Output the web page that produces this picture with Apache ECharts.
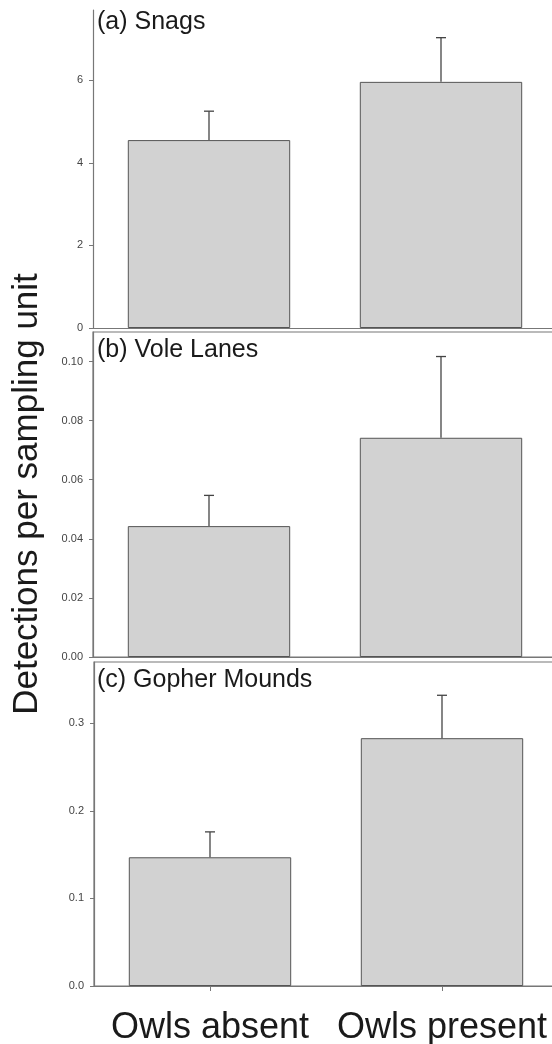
<!DOCTYPE html>
<html>
<head>
<meta charset="utf-8">
<script src="https://cdn.jsdelivr.net/npm/echarts@6/dist/echarts.min.js"></script>
<style>
html,body{margin:0;padding:0;background:#fff;}
#chart{width:552px;height:1044px;}
</style>
</head>
<body>
<div id="chart"></div>
<script>
const categories = ['Owls absent', 'Owls present'];
const panelTitles = ['(a) Snags', '(b) Vole Lanes', '(c) Gopher Mounds'];
const yLabel = 'Detections per sampling unit';

const snagsMean = [4.55, 5.96];
const snagsUpper = [5.25, 7.03];
const voleMean = [0.0443, 0.0742];
const voleUpper = [0.0547, 0.1017];
const gopherMean = [0.147, 0.283];
const gopherUpper = [0.176, 0.332];

const snagsTicks = [0, 2, 4, 6];
const voleTicks = [0, 0.02, 0.04, 0.06, 0.08, 0.10];
const gopherTicks = [0, 0.1, 0.2, 0.3];

const means = [snagsMean, voleMean, gopherMean];
const uppers = [snagsUpper, voleUpper, gopherUpper];
const ticks = [snagsTicks, voleTicks, gopherTicks];
const maxes = [7.7, 0.11, 0.37];
const decimals = [0, 2, 1];

const FONT = 'Liberation Sans, Arial, Helvetica, sans-serif';
const grids = [
  {left: 93, top: 10, width: 464, height: 318, outerBoundsMode: 'none', containLabel: false},
  {left: 93, top: 332, width: 464, height: 325, outerBoundsMode: 'none', containLabel: false, show: true, borderColor: '#777', borderWidth: 1.2, backgroundColor: 'transparent'},
  {left: 94, top: 662, width: 464, height: 324, outerBoundsMode: 'none', containLabel: false, show: true, borderColor: '#777', borderWidth: 1.2, backgroundColor: 'transparent'}
];

const titleTops = [10, 338, 668];

const xAxes = [], yAxes = [], series = [], titles = [];
for (let i = 0; i < 3; i++) {
  const last = i === 2;
  xAxes.push({
    type: 'category', gridIndex: i, data: categories,
    axisLine: {show: true, lineStyle: {color: '#777', width: 1.2}},
    axisTick: {show: last, alignWithLabel: true, length: 5, lineStyle: {color: '#777'}},
    axisLabel: {show: last, interval: 0, hideOverlap: false, fontSize: 36, color: '#1a1a1a', fontFamily: FONT, margin: 24},
    splitLine: {show: false}
  });
  yAxes.push({
    type: 'value', gridIndex: i, min: 0, max: maxes[i],
    axisLine: {show: true, lineStyle: {color: '#777', width: 1.2}},
    axisTick: {show: true, length: 4, customValues: ticks[i], lineStyle: {color: '#777'}},
    axisLabel: {
      customValues: ticks[i], fontSize: 11, color: '#444', fontFamily: FONT, margin: 10,
      formatter: (v) => Number(v).toFixed(decimals[i])
    },
    splitLine: {show: false}
  });
  series.push({
    type: 'bar', xAxisIndex: i, yAxisIndex: i,
    data: means[i], barWidth: '70%',
    itemStyle: {color: '#d2d2d2', borderColor: '#555', borderWidth: 1},
    silent: true, animation: false
  });
  const errData = means[i].map((m, k) => [k, m, uppers[i][k]]);
  series.push({
    type: 'custom', xAxisIndex: i, yAxisIndex: i,
    data: errData,
    encode: {x: 0, y: [1, 2]},
    renderItem: function (params, api) {
      const x = api.value(0);
      const p0 = api.coord([x, api.value(1)]);
      const p1 = api.coord([x, api.value(2)]);
      const cap = 5;
      const st = {stroke: '#444', lineWidth: 1.3};
      return {
        type: 'group',
        children: [
          {type: 'line', shape: {x1: p0[0], y1: p0[1], x2: p1[0], y2: p1[1]}, style: st},
          {type: 'line', shape: {x1: p1[0] - cap, y1: p1[1], x2: p1[0] + cap, y2: p1[1]}, style: st}
        ]
      };
    },
    z: 5, silent: true, animation: false
  });
  titles.push({
    text: panelTitles[i], left: 97, top: titleTops[i], padding: 0,
    textStyle: {fontSize: 25, fontWeight: 'normal', color: '#1a1a1a', fontFamily: FONT}
  });
}

const chart = echarts.init(document.getElementById('chart'), null, {renderer: 'canvas'});
chart.setOption({
  backgroundColor: '#fff',
  animation: false,
  title: titles,
  grid: grids,
  xAxis: xAxes,
  yAxis: yAxes,
  series: series,
  graphic: [{
    type: 'text', x: 27, y: 494, rotation: Math.PI / 2,
    style: {text: yLabel, fontSize: 35, fill: '#1a1a1a', fontFamily: FONT, align: 'center', verticalAlign: 'middle'}
  }]
});
</script>
</body>
</html>
